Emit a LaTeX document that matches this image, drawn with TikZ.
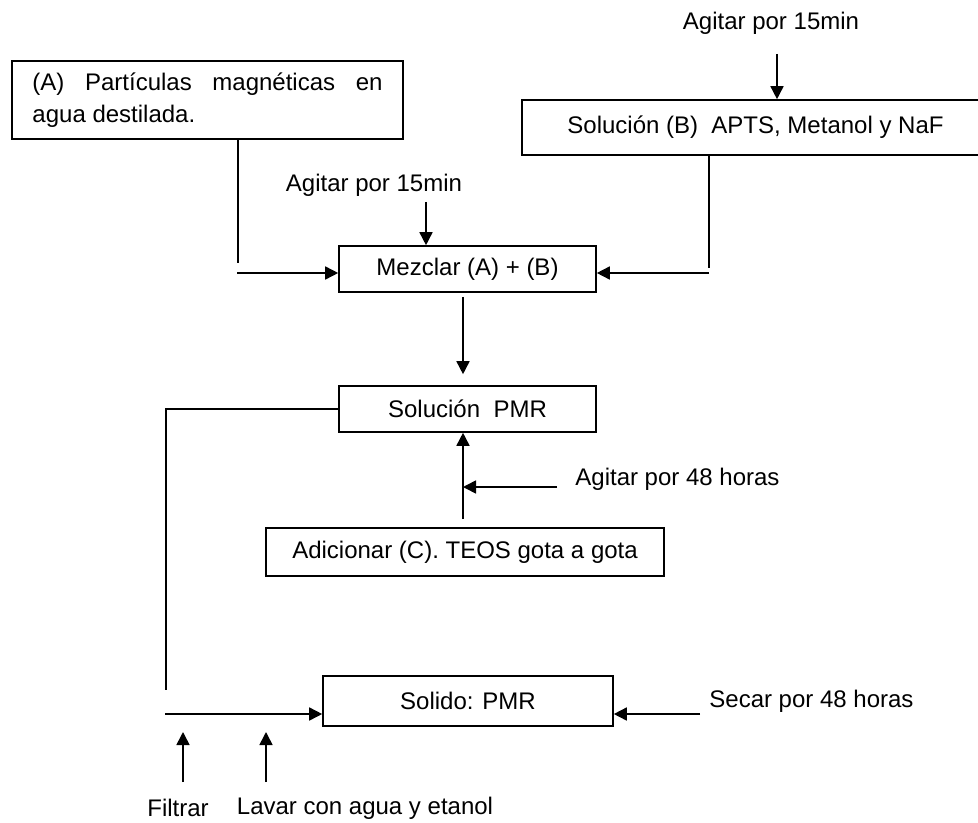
\documentclass[tikz,border=0pt]{standalone}
\usepackage{fontspec}
\setmainfont{Liberation Sans}
\usetikzlibrary{arrows.meta,positioning,calc}
\tikzset{
  box/.style={draw,line width=0.8pt,inner sep=2pt,font=\fontsize{12}{16}\selectfont},
  lbl/.style={inner sep=0pt,font=\fontsize{12}{14}\selectfont},
  ln/.style={line width=0.8pt},
  arr/.style={-{Triangle[length=6.5pt,width=6.5pt]},line width=0.8pt},
}
\begin{document}
\begin{tikzpicture}[x=0.5pt,y=-0.5pt]
 \useasboundingbox (0,0) rectangle (978,823);
 % boxes
 \node[box,text width=175pt,align=justify,inner xsep=10.25pt,minimum height=39pt] (solA) at (207.5,100) {(A) Partículas magnéticas en\linebreak agua destilada.};
 \node[box,minimum width=233.5pt,minimum height=27.5pt] (solB) at (755.5,127.5) {Solución (B) \ APTS, Metanol y NaF};
 \node[box,minimum width=128.5pt,minimum height=23pt] (mix) at (467.5,269) {Mezclar (A) + (B)};
 \node[box,minimum width=128.5pt,minimum height=23pt] (pmr) at (467.5,409) {Solución \ PMR};
 \node[box,minimum width=199pt,minimum height=24pt] (teos) at (465,552) {Adicionar (C). TEOS gota a gota};
 \node[box,minimum width=145pt,minimum height=25pt] (sol) at (468,701) {Solido: PMR};
 % labels
 \node[lbl] (agB) at (771,23) {Agitar por 15min};
 \node[lbl] (agM) at (374,185) {Agitar por 15min};
 \node[lbl,anchor=west] (ag48) at (575,479) {Agitar por 48 horas};
 \node[lbl,anchor=west] (sec) at (709,701) {Secar por 48 horas};
 \node[lbl] (fil) at (178,808) {Filtrar};
 \node[lbl] (lav) at (365,808) {Lavar con agua y etanol};
 % connectors
 \coordinate (tB) at (777,54);
 \draw[arr] (tB) -- (tB |- solB.north);
 \coordinate (tM) at (426,202);
 \draw[arr] (tM) -- (tM |- mix.north);
 \coordinate (a1) at (238,263);
 \draw[ln] (a1 |- solA.south) -- (a1);
 \coordinate (a2) at (237,273);
 \draw[arr] (a2) -- (a2 -| mix.west);
 \coordinate (b1) at (709,268);
 \draw[ln] (b1 |- solB.south) -- (b1);
 \coordinate (b2) at (709,273);
 \draw[arr] (b2) -- (b2 -| mix.east);
 \draw[arr] ([xshift=-2.25pt,yshift=-2pt]mix.south) -- ([xshift=-2.25pt,yshift=5.5pt]pmr.north);
 \coordinate (c1) at (463,519);
 \draw[arr] (c1) -- (c1 |- pmr.south);
 \coordinate (c2) at (557,487);
 \draw[arr] (c2) -- (c2 -| c1);
 \coordinate (d1) at (166,690);
 \draw[ln] (pmr.west) -| (d1);
 \coordinate (d2) at (165,714);
 \draw[arr] (d2) -- (d2 -| sol.west);
 \coordinate (e1) at (700,714);
 \draw[arr] (e1) -- (e1 -| sol.east);
 \coordinate (f1) at (183,782);
 \draw[arr] (f1) -- ++(0,-50);
 \coordinate (g1) at (266,782);
 \draw[arr] (g1) -- ++(0,-50);
\end{tikzpicture}
\end{document}
